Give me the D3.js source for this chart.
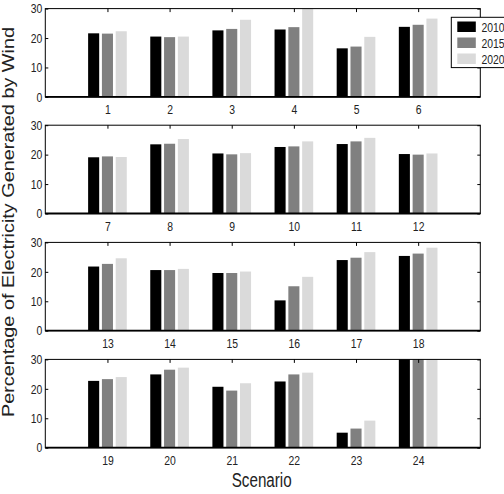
<!DOCTYPE html>
<html><head><meta charset="utf-8">
<script src="https://cdn.jsdelivr.net/npm/d3@7"></script>
<style>
html,body{margin:0;padding:0;background:#fff;}
svg{display:block;}
.tk{font-family:"Liberation Sans",Arial,sans-serif;font-size:13px;fill:#222;}
</style></head><body>
<svg id="c" width="504" height="494"></svg>
<script>
const scenarios = [1,2,3,4,5,6,7,8,9,10,11,12,13,14,15,16,17,18,19,20,21,22,23,24];
const years = ["2010","2015","2020"];
const v2010 = [21.6,20.5,22.6,22.9,16.5,23.8, 19.1,23.5,20.4,22.6,23.6,20.2, 21.8,20.6,19.6,10.3,24.0,25.4, 22.7,24.9,20.7,22.5,5.1,30.5];
const v2015 = [21.5,20.3,23.1,23.7,17.1,24.5, 19.4,23.7,20.1,22.8,24.5,20.0, 22.7,20.6,19.6,15.1,24.8,26.2, 23.3,26.5,19.4,24.9,6.5,30.5];
const v2020 = [22.3,20.5,26.2,30.5,20.4,26.6, 19.2,25.3,20.5,24.5,25.7,20.4, 24.6,21.0,20.1,18.3,26.7,28.2, 24.0,27.2,21.9,25.5,9.2,30.5];
const yTicks = [0,10,20,30];
const colors = ["#000000","#808080","#dadada"];
const series = [v2010,v2015,v2020];
const SX = 0.8;

const svg = d3.select("#c");
const left = 45.3, right = 480.3;
const tops = [8.6, 125.2, 242.4, 359.4];
const ph = 88.3;
const x = d3.scaleLinear().domain([0,7]).range([left,right]);
const offs = [-0.222,0,0.222], bw = 0.178;

function narrow(sel){
  sel.each(function(){
    const t = d3.select(this);
    const xx = +t.attr("x") || 0;
    t.attr("class","tk").attr("fill",null).attr("font-family",null).attr("font-size",null)
     .attr("x", xx/SX).attr("transform",`scale(${SX},1)`);
  });
}

tops.forEach((top,p)=>{
  const y = d3.scaleLinear().domain([0,30]).range([top+ph, top]);
  const g = svg.append("g");
  const cid = "clip"+p;
  svg.append("clipPath").attr("id",cid).append("rect")
    .attr("x",left).attr("y",top).attr("width",right-left).attr("height",ph);
  const cats = scenarios.slice(p*6, p*6+6);
  const bars = g.append("g").attr("clip-path",`url(#${cid})`);
  series.forEach((s,si)=>{
    bars.selectAll(null).data(cats).enter().append("rect")
      .attr("x",(d,i)=>x(i+1+offs[si]-bw/2))
      .attr("width",x(bw)-x(0))
      .attr("y",(d,i)=>y(Math.min(s[p*6+i],30.5)))
      .attr("height",(d,i)=>y(0)-y(Math.min(s[p*6+i],30.5)))
      .attr("fill",colors[si]);
  });
  g.append("rect").attr("x",left).attr("y",top).attr("width",right-left).attr("height",ph)
    .attr("fill","none").attr("stroke","#000").attr("stroke-width",1);
  g.append("line").attr("x1",left).attr("x2",right).attr("y1",top+ph).attr("y2",top+ph)
    .attr("stroke","#000").attr("stroke-width",1.8);
  const ax = d3.axisLeft(y).tickValues(yTicks).tickSize(-3).tickPadding(3);
  const ay = g.append("g").attr("transform",`translate(${left},0)`).call(ax);
  ay.select(".domain").remove();
  narrow(ay.selectAll("text"));
  const ar = d3.axisRight(y).tickValues(yTicks).tickSize(-3).tickFormat("");
  const ayr = g.append("g").attr("transform",`translate(${right},0)`).call(ar);
  ayr.select(".domain").remove();
  const axb = d3.axisBottom(x).tickValues([1,2,3,4,5,6]).tickSize(0).tickPadding(8)
    .tickFormat(d=>cats[d-1]);
  const gb = g.append("g").attr("transform",`translate(0,${top+ph})`).call(axb);
  gb.select(".domain").remove();
  narrow(gb.selectAll("text"));
  const axt = d3.axisTop(x).tickValues([1,2,3,4,5,6]).tickSize(-3.5).tickFormat("");
  const gt = g.append("g").attr("transform",`translate(0,${top})`).call(axt);
  gt.select(".domain").remove();
  g.selectAll(".tick line").attr("stroke","#000");
});

// legend
const lg = svg.append("g");
lg.append("rect").attr("x",451.3).attr("y",17.3).attr("width",60).attr("height",50.3)
  .attr("fill","#fff").attr("stroke","#000").attr("stroke-width",1);
years.forEach((yr,i)=>{
  lg.append("rect").attr("x",457.3).attr("y",21.5+i*16).attr("width",18.5).attr("height",10.5).attr("fill",colors[i]);
  lg.append("text").attr("class","tk")
    .attr("transform",`translate(481.5,${27+i*16}) scale(${SX},1)`)
    .attr("dy","0.35em").text(yr);
});

svg.append("text").attr("x",261.7).attr("y",487).attr("text-anchor","middle")
  .attr("textLength",60).attr("lengthAdjust","spacingAndGlyphs")
  .attr("style","font-family:'Liberation Sans',Arial,sans-serif;font-size:19.5px;fill:#222")
  .text("Scenario");
svg.append("text").attr("transform","translate(14,222) rotate(-90)").attr("text-anchor","middle")
  .attr("textLength",390).attr("lengthAdjust","spacingAndGlyphs")
  .attr("style","font-family:'Liberation Sans',Arial,sans-serif;font-size:17px;fill:#222")
  .text("Percentage of Electricity Generated by Wind");
</script></body></html>
